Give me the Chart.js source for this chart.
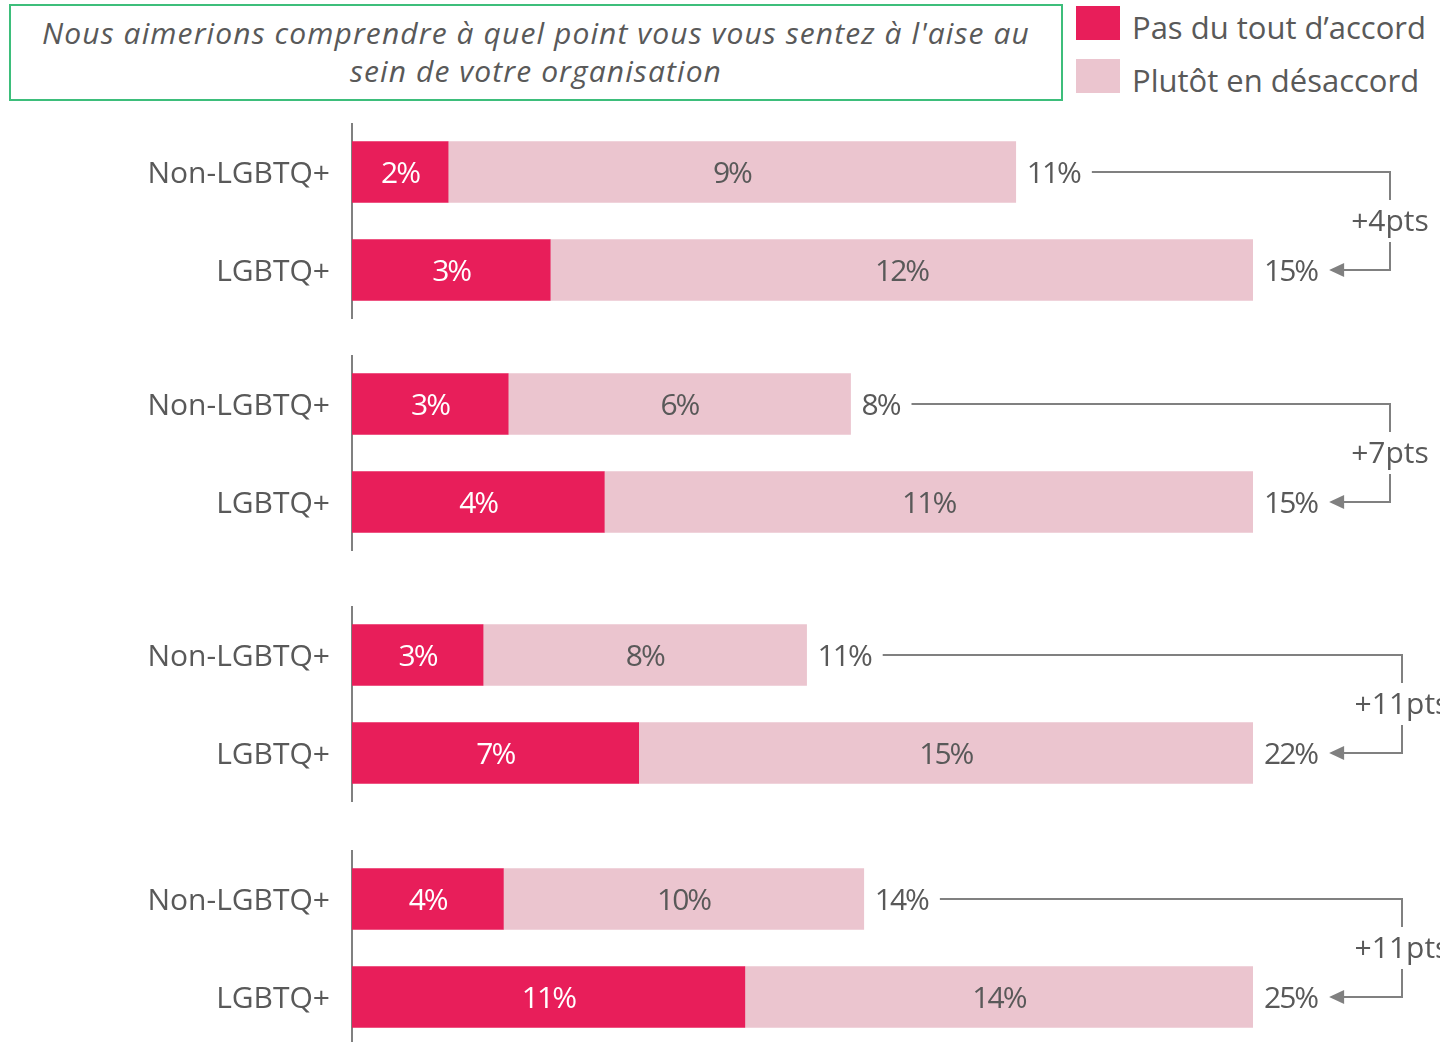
<!DOCTYPE html>
<html>
<head>
<meta charset="utf-8">
<script src="https://cdn.jsdelivr.net/npm/chart.js@4/dist/chart.umd.min.js"></script>
<style>
  html, body { margin: 0; padding: 0; width: 1440px; height: 1042px; overflow: hidden; background: #fff; }
  body { font-family: "Open Sans", sans-serif; color: #595959; position: relative; }
  #title {
    position: absolute; left: 9px; top: 4px; width: 1050px; height: 85px; padding-top: 8px;
    border: 2px solid #3dbe7b; text-align: center; font-style: italic;
    font-size: 30px; line-height: 38px; letter-spacing: 1.1px; white-space: nowrap;
  }
  .leg { position: absolute; left: 1076px; font-size: 31px; line-height: 34px; white-space: nowrap; }
  .leg span.box { position: absolute; left: 0; top: 0; width: 44px; height: 34px; }
  .leg span.txt { position: absolute; left: 56px; top: 4px; }
  .grp { position: absolute; left: 0; width: 1440px; height: 196px; }
</style>
</head>
<body>
<div id="title">Nous aimerions comprendre à quel point vous vous sentez à l'aise au<br>sein de votre organisation</div>
<div class="leg" style="top:6px"><span class="box" id="legA"></span><span class="txt" id="legAt"></span></div>
<div class="leg" style="top:59px"><span class="box" id="legB"></span><span class="txt" id="legBt"></span></div>
<canvas class="grp" id="g0" width="1440" height="196" style="top:123px"></canvas>
<canvas class="grp" id="g1" width="1440" height="196" style="top:355px"></canvas>
<canvas class="grp" id="g2" width="1440" height="196" style="top:606px"></canvas>
<canvas class="grp" id="g3" width="1440" height="196" style="top:850px"></canvas>
<script>
var categories = ["Non-LGBTQ+", "LGBTQ+"];
var seriesNames = ["Pas du tout d\u2019accord", "Plutôt en désaccord"];

// one entry per group (top to bottom)
var darkNon = [1.6, 2.6, 3.2, 4.2];
var lightNon = [9.45, 5.7, 7.9, 10.0];
var darkLgbt = [3.3, 4.2, 7.0, 10.9];
var lightLgbt = [11.7, 10.8, 15.0, 14.1];

var darkColor = "#e81e5a";
var lightColor = "#ebc5cf";
var textColor = "#595959";
var lineColor = "#808080";
var fontFamily = '"Open Sans", sans-serif';
var bracketX = [1390, 1390, 1402, 1402];

document.getElementById("legA").style.background = darkColor;
document.getElementById("legB").style.background = lightColor;
document.getElementById("legAt").textContent = seriesNames[0];
document.getElementById("legBt").textContent = seriesNames[1];

var labelsPlugin = {
  id: "barLabels",
  afterDatasetsDraw: function (chart, args, opts) {
    var ctx = chart.ctx;
    ctx.save();
    ctx.font = "30px " + fontFamily;
    ctx.letterSpacing = "-2px";
    ctx.textBaseline = "middle";
    ctx.textAlign = "center";
    chart.data.datasets.forEach(function (ds, di) {
      chart.getDatasetMeta(di).data.forEach(function (bar, i) {
        ctx.fillStyle = di === 0 ? "#fff" : textColor;
        ctx.fillText(Math.round(ds.data[i]) + "%", (bar.x + bar.base) / 2, bar.y + 2);
      });
    });

    // totals + bracket
    var last = chart.getDatasetMeta(1).data;
    var totals = [0, 1].map(function (i) {
      return Math.round(chart.data.datasets[0].data[i] + chart.data.datasets[1].data[i]);
    });
    ctx.textAlign = "left";
    ctx.fillStyle = textColor;
    var ends = [];
    last.forEach(function (bar, i) {
      var t = totals[i] + "%";
      ctx.fillText(t, bar.x + 11, bar.y + 2);
      ends.push(bar.x + 11 + ctx.measureText(t).width);
    });

    var bx = opts.x;
    var y0 = last[0].y, y1 = last[1].y, mid = (y0 + y1) / 2;
    ctx.strokeStyle = lineColor;
    ctx.lineWidth = 2;
    ctx.beginPath();
    ctx.moveTo(ends[0] + 12, y0);
    ctx.lineTo(bx, y0);
    ctx.lineTo(bx, mid - 21);
    ctx.moveTo(bx, mid + 21);
    ctx.lineTo(bx, y1);
    ctx.lineTo(ends[1] + 26, y1);
    ctx.stroke();
    ctx.fillStyle = lineColor;
    ctx.beginPath();
    ctx.moveTo(ends[1] + 12, y1);
    ctx.lineTo(ends[1] + 27, y1 - 7);
    ctx.lineTo(ends[1] + 27, y1 + 7);
    ctx.closePath();
    ctx.fill();

    ctx.fillStyle = textColor;
    ctx.textAlign = "center";
    ctx.letterSpacing = "0px";
    ctx.fillText("+" + (totals[1] - totals[0]) + "pts", bx, mid + 1);
    ctx.restore();
  }
};

for (var g = 0; g < 4; g++) {
  new Chart(document.getElementById("g" + g), {
    type: "bar",
    data: {
      labels: categories,
      datasets: [
        { label: seriesNames[0], data: [darkNon[g], darkLgbt[g]], backgroundColor: darkColor },
        { label: seriesNames[1], data: [lightNon[g], lightLgbt[g]], backgroundColor: lightColor }
      ]
    },
    options: {
      indexAxis: "y",
      responsive: false,
      animation: false,
      events: [],
      layout: { padding: { left: 0, right: 187, top: 0, bottom: 0 } },
      barThickness: 61,
      plugins: {
        legend: { display: false },
        tooltip: { enabled: false },
        barLabels: { x: bracketX[g] }
      },
      scales: {
        x: { stacked: true, display: false, min: 0, max: darkLgbt[g] + lightLgbt[g] },
        y: {
          stacked: true,
          grid: { display: false, drawTicks: false },
          border: { display: true, color: lineColor, width: 2 },
          ticks: { color: textColor, padding: 22, labelOffset: 2, font: { family: fontFamily, size: 30 } },
          afterFit: function (s) { s.width = 352; s.paddingTop = 0; s.paddingBottom = 0; }
        }
      }
    },
    plugins: [labelsPlugin]
  });
}
</script>
</body>
</html>
